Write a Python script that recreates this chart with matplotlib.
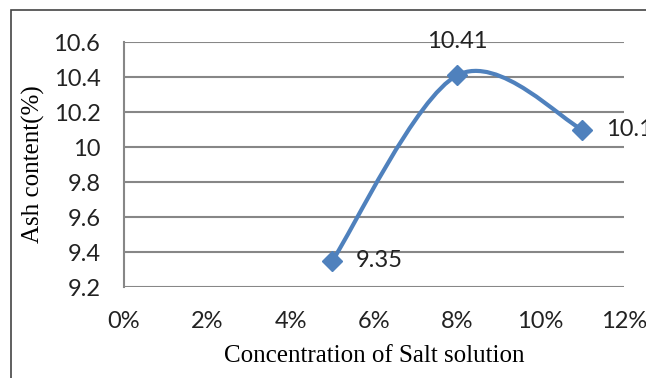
import numpy as np
import matplotlib.pyplot as plt
from matplotlib.path import Path
from matplotlib.patches import PathPatch, Rectangle
from matplotlib.ticker import FuncFormatter

# data
conc = [0.05, 0.08, 0.11]
ash = [9.35, 10.41, 10.10]
labels = ['9.35', '10.41', '10.1']

blue = '#4F81BD'
grid_c = '#878787'
tick_font = 'Lato'
label_font = 'Liberation Serif'


def smooth_path(xs, ys):
    # excel style bezier smoothing through the points
    pts = np.column_stack((xs, ys))
    n = len(pts)
    verts = [pts[0]]
    codes = [Path.MOVETO]
    for i in range(n - 1):
        p0 = pts[i - 1] if i > 0 else pts[i]
        p1 = pts[i]
        p2 = pts[i + 1]
        p3 = pts[i + 2] if i + 2 < n else pts[i + 1]
        c1 = p1 + (p2 - p0) / 6.0
        c2 = p2 - (p3 - p1) / 6.0
        verts += [c1, c2, p2]
        codes += [Path.CURVE4] * 3
    return Path(verts, codes)


fig = plt.figure(figsize=(6.46, 3.78), dpi=100)
ax = fig.add_axes([124 / 646, 1 - 287 / 378, 500 / 646, 245 / 378])

ax.set_xlim(0, 0.12)
ax.set_ylim(9.2, 10.6)
ax.set_xticks(np.arange(0, 0.121, 0.02))
ax.set_yticks(np.arange(9.2, 10.61, 0.2))
ax.xaxis.set_major_formatter(FuncFormatter(lambda v, p: f'{v * 100:.0f}%'))
ax.yaxis.set_major_formatter(FuncFormatter(lambda v, p: f'{v:g}'))

ax.grid(axis='y', color=grid_c, linewidth=1.5)
ax.set_axisbelow(True)
for side in ['top', 'right', 'bottom']:
    ax.spines[side].set_visible(False)
ax.spines['left'].set_color(grid_c)
ax.spines['left'].set_linewidth(1.5)
ax.tick_params(length=0, labelsize=17)
ax.tick_params(axis='y', pad=17)
ax.tick_params(axis='x', pad=17)
for t in ax.get_xticklabels() + ax.get_yticklabels():
    t.set_fontfamily(tick_font)
    t.set_color('#222222')

ax.add_patch(PathPatch(smooth_path(conc, ash), facecolor='none',
                       edgecolor=blue, linewidth=3.0, clip_on=False))
ax.plot(conc, ash, linestyle='none', marker='D', markersize=10,
        color=blue, clip_on=False)

offsets = [(17, 0, 'left', 'center'), (0, 24, 'center', 'center'),
           (17, 0, 'left', 'center')]
for x, y, s, (dx, dy, ha, va) in zip(conc, ash, labels, offsets):
    ax.annotate(s, (x, y), xytext=(dx, dy), textcoords='offset points',
                ha=ha, va=va, fontsize=17, fontfamily=tick_font,
                color='#222222', annotation_clip=False)

ax.set_ylabel('Ash content(%)', fontfamily=label_font, fontsize=18, labelpad=6)
ax.set_xlabel('Concentration of Salt solution', fontfamily=label_font,
              fontsize=18, labelpad=10)

fig.patches.append(Rectangle((11 / 646, -0.1), 1.1, 1.1 - 10 / 378,
                             transform=fig.transFigure, fill=False,
                             edgecolor='#444444', linewidth=1.2))

fig.savefig('out.png', dpi=100)
